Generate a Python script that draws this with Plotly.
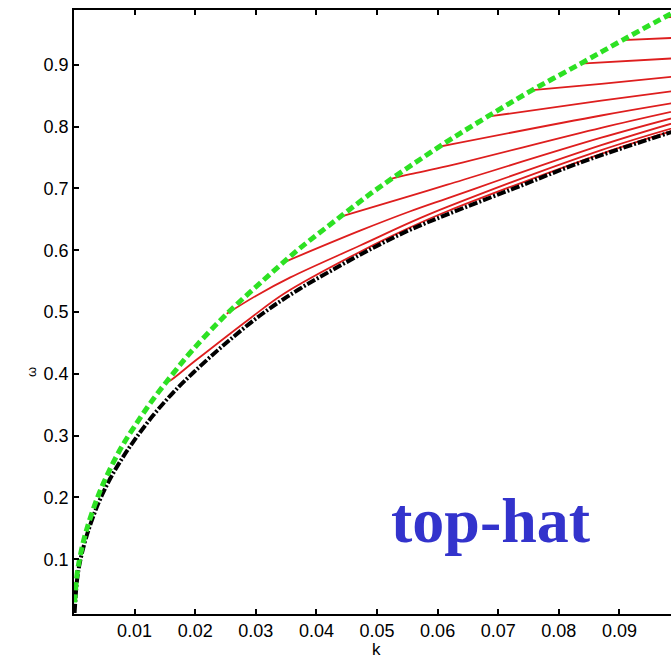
import plotly.graph_objects as go

# Deep-water branch (green dashed)
k_surface = [0.0001, 0.0005, 0.001, 0.002, 0.004, 0.006, 0.008, 0.010, 0.013, 0.0164,
             0.0197, 0.025, 0.0312, 0.037, 0.043, 0.049, 0.055, 0.0616, 0.0682, 0.0756,
             0.0836, 0.0905, 0.0982, 0.1000]
w_surface = [0.030, 0.075, 0.104, 0.145, 0.203, 0.247, 0.284, 0.315, 0.358, 0.401,
             0.440, 0.495, 0.551, 0.601, 0.647, 0.692, 0.733, 0.776, 0.816, 0.859,
             0.902, 0.940, 0.981, 0.990]

# Limiting branch (black dash-dot)
k_limit = [0.0001, 0.0005, 0.001, 0.002, 0.004, 0.006, 0.008, 0.010, 0.013, 0.0164,
           0.0197, 0.025, 0.0312, 0.037, 0.043, 0.049, 0.055, 0.0616, 0.0726, 0.0836,
           0.0979, 0.1000]
w_limit = [0.013, 0.066, 0.096, 0.135, 0.190, 0.231, 0.264, 0.293, 0.332, 0.370,
           0.402, 0.449, 0.498, 0.536, 0.570, 0.602, 0.631, 0.658, 0.700, 0.742,
           0.789, 0.795]

# Mode branches (red), each leaving the green curve
mode_k = [
    [0.0151, 0.0159, 0.0200, 0.0291, 0.0347, 0.0473, 0.0555, 0.0616, 0.0870, 0.1000],
    [0.0252, 0.0300, 0.0357, 0.0473, 0.0555, 0.0616, 0.0870, 0.1000],
    [0.0350, 0.0473, 0.0555, 0.0616, 0.0870, 0.1000],
    [0.0436, 0.0555, 0.0616, 0.0870, 0.1000],
    [0.0518, 0.0555, 0.0616, 0.0870, 0.1000],
    [0.0600, 0.0870, 0.1000],
    [0.0682, 0.0870, 0.1000],
    [0.0756, 0.0870, 0.1000],
    [0.0836, 0.1000],
    [0.0905, 0.1000],
    [0.0976, 0.1000],
]
mode_w = [
    [0.385, 0.389, 0.421, 0.490, 0.530, 0.598, 0.637, 0.663, 0.756, 0.797],
    [0.497, 0.526, 0.556, 0.608, 0.645, 0.670, 0.762, 0.801],
    [0.582, 0.632, 0.663, 0.684, 0.770, 0.809],
    [0.653, 0.688, 0.706, 0.782, 0.817],
    [0.714, 0.723, 0.736, 0.798, 0.827],
    [0.767, 0.818, 0.840],
    [0.816, 0.842, 0.859],
    [0.859, 0.869, 0.882],
    [0.902, 0.911],
    [0.940, 0.944],
    [0.977, 0.978],
]

x_ticks = [0.01, 0.02, 0.03, 0.04, 0.05, 0.06, 0.07, 0.08, 0.09]
x_tick_text = ["0.01", "0.02", "0.03", "0.04", "0.05", "0.06", "0.07", "0.08", "0.09"]
y_ticks = [0.1, 0.2, 0.3, 0.4, 0.5, 0.6, 0.7, 0.8, 0.9]
y_tick_text = ["0.1", "0.2", "0.3", "0.4", "0.5", "0.6", "0.7", "0.8", "0.9"]

fig = go.Figure()

for ks, ws in zip(mode_k, mode_w):
    fig.add_trace(go.Scatter(
        x=ks, y=ws, mode="lines",
        line=dict(color="rgb(222,30,30)", width=1.8, shape="spline", smoothing=1.0),
        hoverinfo="skip", showlegend=False,
    ))

fig.add_trace(go.Scatter(
    x=k_limit, y=w_limit, mode="lines",
    line=dict(color="black", width=4, dash="9px,2px,2px,2px", shape="spline", smoothing=1.0),
    showlegend=False,
))

fig.add_trace(go.Scatter(
    x=k_surface, y=w_surface, mode="lines",
    line=dict(color="rgb(45,225,35)", width=5, dash="8px,4px", shape="spline", smoothing=1.0),
    showlegend=False,
))

axis_font = dict(family="Liberation Sans, Arial, sans-serif", size=18, color="black")

fig.update_layout(
    width=671, height=669,
    margin=dict(l=74, r=0, t=10, b=55),
    paper_bgcolor="white", plot_bgcolor="white",
    xaxis=dict(
        range=[0, 0.09851], showgrid=False, zeroline=False,
        showline=True, linecolor="black", linewidth=1.5, mirror="ticks",
        ticks="inside", ticklen=5, tickwidth=1.5, tickcolor="black",
        tickvals=x_ticks, ticktext=x_tick_text, tickfont=axis_font,
    ),
    yaxis=dict(
        range=[0.0113, 0.9887], showgrid=False, zeroline=False,
        showline=True, linecolor="black", linewidth=1.5, mirror=False,
        ticks="inside", ticklen=5, tickwidth=1.5, tickcolor="black",
        tickvals=y_ticks, ticktext=y_tick_text, tickfont=axis_font,
    ),
    annotations=[
        dict(text="k", x=0.506, y=-0.078, xref="paper", yref="paper",
             showarrow=False, font=dict(family="Liberation Sans, Arial, sans-serif", size=17, color="black")),
        dict(text="ω", x=-0.087, y=0.40, xref="paper", yref="paper", textangle=-90,
             showarrow=False, font=dict(family="Liberation Sans, Arial, sans-serif", size=13, color="black")),
        dict(text="<b>top-hat</b>", x=0.698, y=0.155, xref="paper", yref="paper",
             xanchor="center", yanchor="middle", showarrow=False,
             font=dict(family="Liberation Serif, Times New Roman, serif", size=64, color="rgb(51,51,204)")),
    ],
)

fig.write_html("out.html")
